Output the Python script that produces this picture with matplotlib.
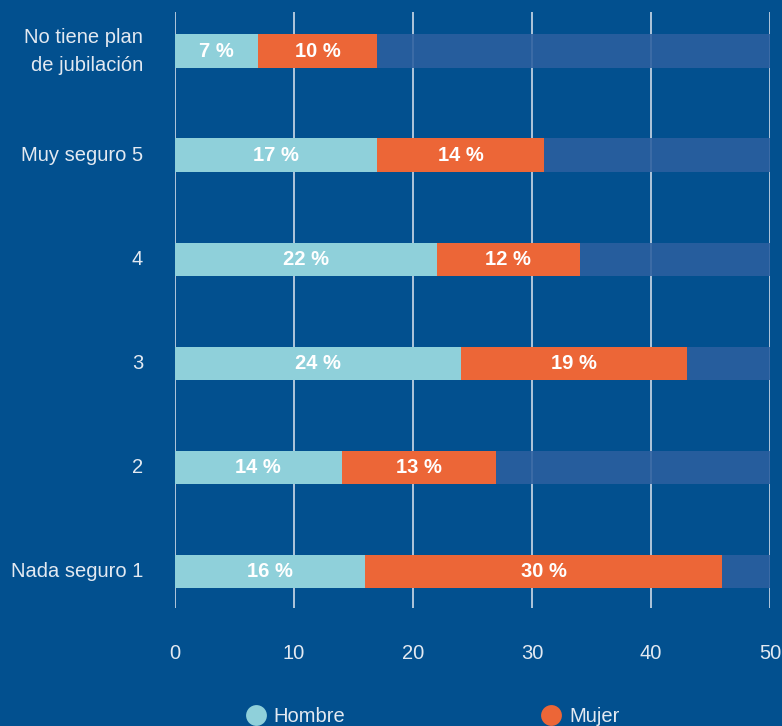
import matplotlib
matplotlib.use('Agg')
import matplotlib.pyplot as plt
from matplotlib.lines import Line2D
import numpy as np

# ---------------------------------------------------------------------------
# Data
# ---------------------------------------------------------------------------

categories = ['No tiene plan\nde jubilación', 'Muy seguro 5', '4', '3', '2', 'Nada seguro 1']
hombre = [7, 17, 22, 24, 14, 16]
mujer = [10, 14, 12, 19, 13, 30]
x_ticks = [0, 10, 20, 30, 40, 50]
x_max = 50

BG = '#02508f'
C_HOMBRE = '#8fd0da'
C_MUJER = '#ec6637'
C_REST = '#2c5f9f'
C_TEXT = '#e3e9f1'

plt.rcParams['font.family'] = ['Liberation Sans', 'DejaVu Sans']

fig = plt.figure(figsize=(7.82, 7.26), dpi=100, facecolor=BG)
ax = fig.add_axes([0.2238, 0.1625, 0.7609, 0.821], facecolor=BG)

y = np.arange(len(categories))
h = np.array(hombre)
m = np.array(mujer)
bar_h = 0.32

# remaining share up to 50, drawn first so the grid shows through it
ax.barh(y, x_max - (h + m), left=h + m, height=bar_h, color=C_REST, alpha=0.88, zorder=2)
ax.barh(y, h, height=bar_h, color=C_HOMBRE, zorder=3)
ax.barh(y, m, left=h, height=bar_h, color=C_MUJER, zorder=3)

for yi, hv, mv in zip(y, h, m):
    ax.text(hv / 2, yi, f'{hv} %', ha='center', va='center', color='white',
            fontsize=14.5, fontweight='bold', zorder=4)
    ax.text(hv + mv / 2, yi, f'{mv} %', ha='center', va='center', color='white',
            fontsize=14.5, fontweight='bold', zorder=4)

ax.set_xlim(0, x_max)
ax.set_ylim(len(categories) - 1 + 0.35, -0.375)
ax.set_xticks(x_ticks)
ax.set_xticklabels([str(t) for t in x_ticks])
ax.set_yticks(y)
ax.set_yticklabels(categories, ha='right', va='center', linespacing=1.6)

ax.xaxis.grid(True, color='#dfe6ef', linewidth=1.1, zorder=1)
ax.set_axisbelow(True)
ax.tick_params(axis='both', length=0, colors=C_TEXT, labelsize=14.5)
ax.tick_params(axis='x', pad=26)
ax.tick_params(axis='y', pad=23)
for s in ax.spines.values():
    s.set_visible(False)

handles = [
    Line2D([], [], marker='o', linestyle='none', markersize=15,
           markerfacecolor=C_HOMBRE, markeredgecolor='none', label='Hombre'),
    Line2D([], [], marker='o', linestyle='none', markersize=15,
           markerfacecolor=C_MUJER, markeredgecolor='none', label='Mujer'),
]
leg = fig.legend(handles=handles, loc='center', bbox_to_anchor=(0.553, 0.013),
                 ncol=2, frameon=False, fontsize=14.5, columnspacing=9.7,
                 handletextpad=0.4, handlelength=1.0)
for t in leg.get_texts():
    t.set_color(C_TEXT)

fig.savefig('out.png', dpi=100, facecolor=BG)
plt.close(fig)
